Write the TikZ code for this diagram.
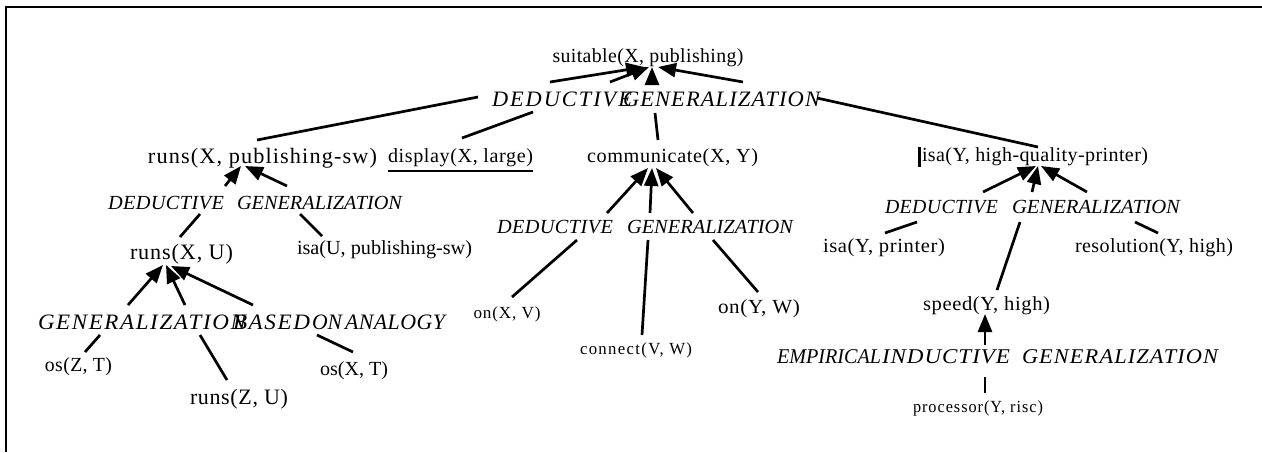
\documentclass[tikz,border=0pt]{standalone}
\usepackage{fontspec}
\setmainfont{Liberation Serif}
\usetikzlibrary{arrows.meta,calc}
\newlength\pxu \setlength\pxu{0.5pt}
% #1 width (px), #2 size (pt), #3 shape, #4 letter spacing, #5 text
\newcommand\lbl[5]{\resizebox{#1\pxu}{\height}{\fontsize{#2}{#2}\selectfont#3\addfontfeature{LetterSpace=#4}#5}}
\begin{document}
\begin{tikzpicture}[x=0.5pt,y=-0.5pt,
  txt/.style={inner sep=0pt,anchor=center},
  conn/.style={line width=1.35pt},
  arr/.style={conn,-{Triangle[length=9pt,width=7pt]}}]
\useasboundingbox (0,0) rectangle (1262,452);
\draw[line width=1.1pt] (6,452) -- (6,7) -- (1262,7);

% goal and first deductive step
\node[txt] (suit) at (648,58) {\lbl{191}{10}{}{2}{suitable(X, publishing)}};
\node[txt] (D1a) at (562,99) {\lbl{140}{11}{\itshape}{9}{DEDUCTIVE}};
\node[txt] (D1b) at (721.5,99) {\lbl{197}{11}{\itshape}{5}{GENERALIZATION}};
\node[txt] (runsXP) at (262.5,158) {\lbl{229}{11}{}{5}{runs(X, publishing-sw)}};
\node[txt] (disp) at (460.5,158) {\lbl{145}{10}{}{3}{display(X, large)}};
\node[txt] (comm) at (672.5,158) {\lbl{171}{10}{}{3}{communicate(X, Y)}};
\node[txt] (isaHQP) at (1035,157) {\lbl{226}{10}{}{2}{isa(Y, high-quality-printer)}};

% left branch
\node[txt] (D2a) at (166,203) {\lbl{116}{10}{\itshape}{2}{DEDUCTIVE}};
\node[txt] (D2b) at (319.5,203) {\lbl{165}{10}{\itshape}{0}{GENERALIZATION}};
\node[txt] (runsXU) at (181.5,254) {\lbl{103}{11}{}{4}{runs(X, U)}};
\node[txt] (isaUP) at (384.5,250) {\lbl{175}{10}{}{0}{isa(U, publishing-sw)}};
\node[txt] (G1) at (142,322) {\lbl{208}{11}{\itshape}{7}{GENERALIZATION}};
\node[txt] (G2) at (271.5,322) {\lbl{77}{11}{\itshape}{7}{BASED}};
\node[txt] (G3) at (327,322) {\lbl{30}{11}{\itshape}{0}{ON}};
\node[txt] (G4) at (395,322) {\lbl{100}{11}{\itshape}{2}{ANALOGY}};
\node[txt] (osZT) at (78.5,367) {\lbl{67}{10}{}{2}{os(Z, T)}};
\node[txt] (runsZU) at (239,399) {\lbl{98}{11}{}{3}{runs(Z, U)}};
\node[txt] (osXT) at (354,371) {\lbl{68}{10}{}{0}{os(X, T)}};

% middle branch
\node[txt] (D3a) at (555,227) {\lbl{116}{10}{\itshape}{2}{DEDUCTIVE}};
\node[txt] (D3b) at (710,227) {\lbl{166}{10}{\itshape}{0}{GENERALIZATION}};
\node[txt] (onXV) at (507,314) {\lbl{67}{8.5}{}{5}{on(X, V)}};
\node[txt] (connVW) at (636,350) {\lbl{112}{8.5}{}{8}{connect(V, W)}};
\node[txt] (onYW) at (759,309) {\lbl{82}{10}{}{3}{on(Y, W)}};

% right branch
\node[txt] (D4a) at (941.5,207) {\lbl{113}{10}{\itshape}{2}{DEDUCTIVE}};
\node[txt] (D4b) at (1096,207) {\lbl{168}{10}{\itshape}{0}{GENERALIZATION}};
\node[txt] (isaYP) at (884,248) {\lbl{122}{10}{}{3}{isa(Y, printer)}};
\node[txt] (resYH) at (1154,248) {\lbl{158}{10}{}{2}{resolution(Y, high)}};
\node[txt] (speed) at (986.5,306) {\lbl{127}{10}{}{3}{speed(Y, high)}};
\node[txt] (E1) at (829,357) {\lbl{104}{10.5}{\itshape}{0}{EMPIRICAL}};
\node[txt] (E2) at (946,357) {\lbl{128}{10.5}{\itshape}{4}{INDUCTIVE}};
\node[txt] (E3) at (1120,357) {\lbl{196}{10.5}{\itshape}{5}{GENERALIZATION}};
\node[txt] (proc) at (978,408) {\lbl{130}{8.5}{}{6}{processor(Y, risc)}};

% marks on the first row
\draw[line width=1.5pt] ($(isaHQP.center)+(-116,-10)$) -- ($(isaHQP.center)+(-116,10)$);
\draw[line width=1pt] ($(disp.center)+(-72.5,13)$) -- ($(disp.center)+(72.5,13)$);

% top step
\draw[arr] ($(D1a.center)+(-12,-17)$) -- ($(suit.center)+(-4,9)$);
\draw[arr] ($(D1a.center)+(48,-17)$) -- ($(suit.center)+(1,9)$);
\draw[arr] ($(D1b.center)+(-69.5,-17)$) -- ($(suit.center)+(4,9)$);
\draw[arr] ($(D1b.center)+(21.5,-17)$) -- ($(suit.center)+(10,9)$);
\draw[conn] ($(D1a.center)+(-84,-2)$) -- ($(runsXP.center)+(-5.5,-18)$);
\draw[conn] ($(D1a.center)+(-29,13)$) -- ($(disp.center)+(1.5,-20)$);
\draw[conn] ($(D1b.center)+(-66.5,14)$) -- ($(comm.center)+(-14.5,-18)$);
\draw[conn] ($(D1b.center)+(95.5,-1)$) -- ($(isaHQP.center)+(3,-10)$);

% left step
\draw[arr] ($(D2a.center)+(59,-17)$) -- ($(runsXP.center)+(-21.5,8)$);
\draw[arr] ($(D2b.center)+(-32.5,-17)$) -- ($(runsXP.center)+(-17.5,8)$);
\draw[conn] ($(D2a.center)+(34,11)$) -- ($(runsXU.center)+(-1.5,-17)$);
\draw[conn] ($(D2b.center)+(-19.5,11)$) -- ($(isaUP.center)+(-62.5,-14)$);

% analogy step
\draw[arr] ($(G1.center)+(-14,-17)$) -- ($(runsXU.center)+(-18.5,11)$);
\draw[arr] ($(G1.center)+(43,-17)$) -- ($(runsXU.center)+(-15.5,11)$);
\draw[arr] ($(G2.center)+(-18.5,-17)$) -- ($(runsXU.center)+(-10.5,12)$);
\draw[conn] ($(G1.center)+(-42,13)$) -- ($(osZT.center)+(6.5,-15)$);
\draw[conn] ($(G1.center)+(58,13)$) -- ($(runsZU.center)+(-12,-19)$);
\draw[conn] ($(G3.center)+(-10,13)$) -- ($(osXT.center)+(-1,-19)$);

% middle step
\draw[arr] ($(D3a.center)+(52,-14)$) -- ($(comm.center)+(-24.5,10)$);
\draw[arr] ($(D3b.center)+(-60,-14)$) -- ($(comm.center)+(-20.5,10)$);
\draw[arr] ($(D3b.center)+(-17,-14)$) -- ($(comm.center)+(-16.5,10)$);
\draw[conn] ($(D3a.center)+(22,13)$) -- ($(onXV.center)+(5,-17)$);
\draw[conn] ($(D3b.center)+(-62,13)$) -- ($(connVW.center)+(6,-15)$);
\draw[conn] ($(D3b.center)+(3,13)$) -- ($(onYW.center)+(-1,-17)$);

% right step
\draw[arr] ($(D4a.center)+(41.5,-15)$) -- ($(isaHQP.center)+(1,9)$);
\draw[arr] ($(D4b.center)+(-64,-15)$) -- ($(isaHQP.center)+(3,9)$);
\draw[arr] ($(D4b.center)+(-9,-15)$) -- ($(isaHQP.center)+(6,9)$);
\draw[conn] ($(D4a.center)+(-24.5,15)$) -- ($(isaYP.center)+(1,-15)$);
\draw[conn] ($(D4b.center)+(-76,15)$) -- ($(speed.center)+(10.5,-16)$);
\draw[conn] ($(D4b.center)+(39,15)$) -- ($(resYH.center)+(4,-15)$);

% inductive step
\draw[conn] ($(proc.center)+(7,-15)$) -- ($(E2.center)+(39,20)$);
\draw[arr] ($(E2.center)+(39,-12)$) -- ($(speed.center)+(-1.5,8)$);
\end{tikzpicture}
\end{document}
